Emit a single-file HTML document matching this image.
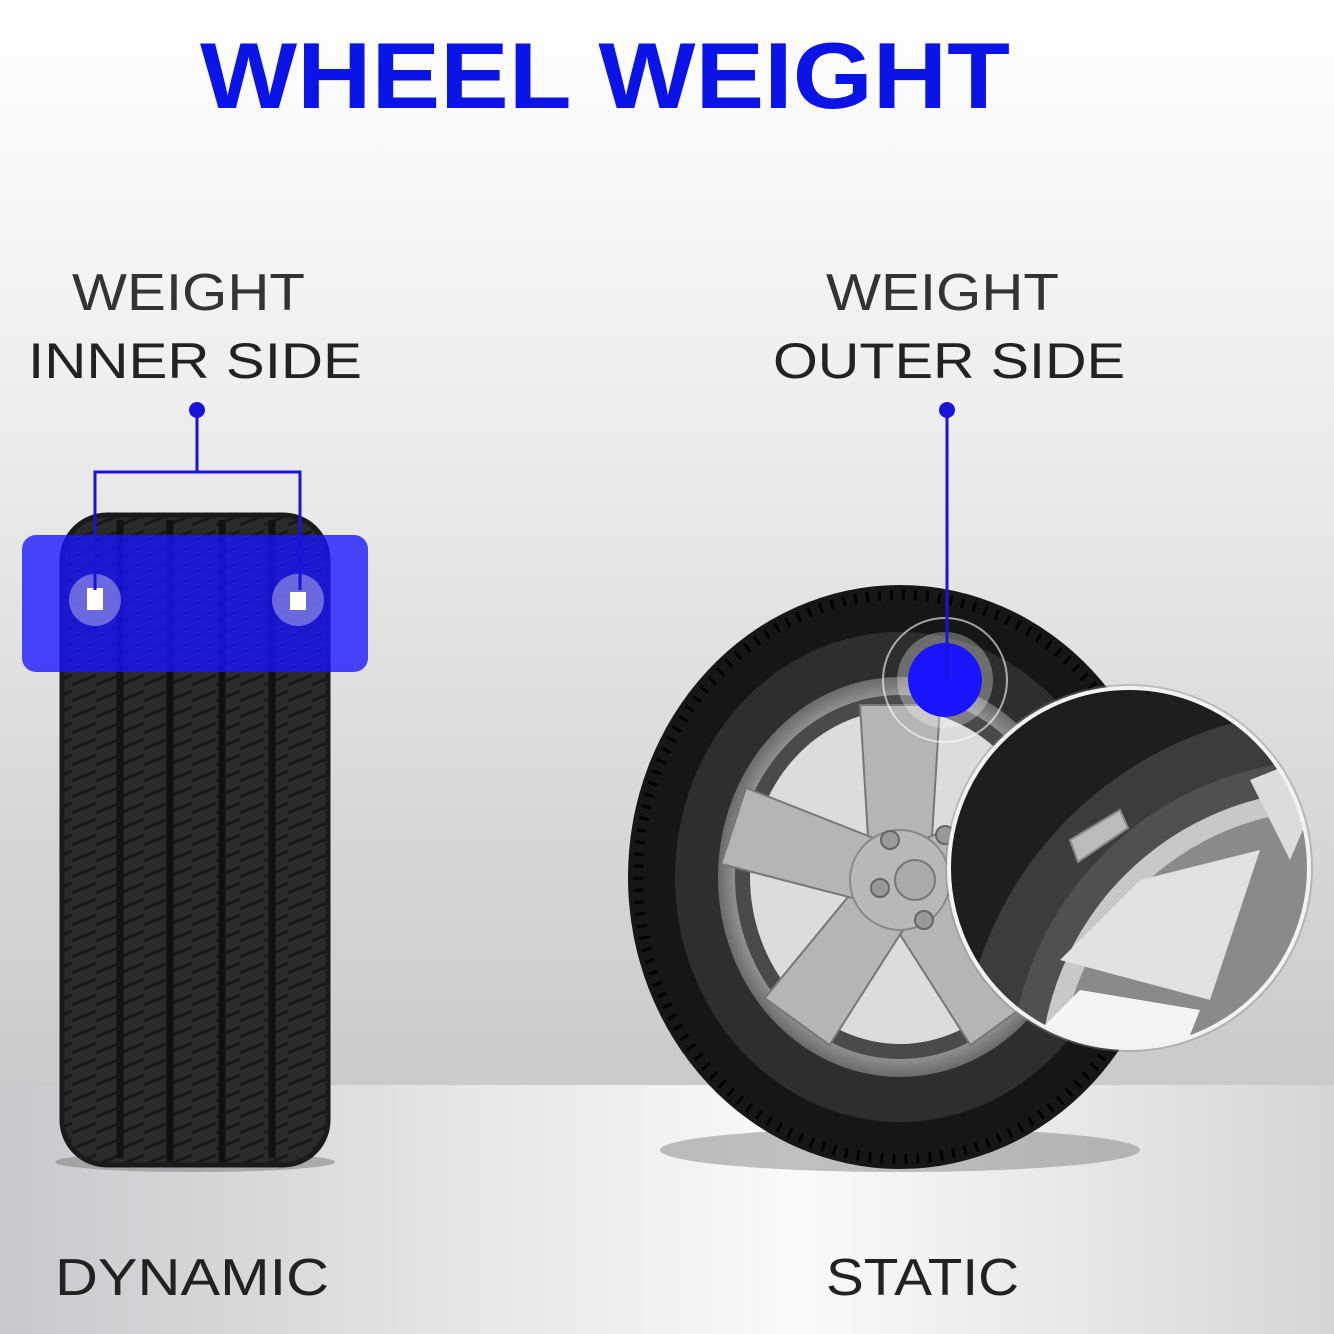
<!DOCTYPE html>
<html><head><meta charset="utf-8"><style>
html,body{margin:0;padding:0;width:1334px;height:1334px;overflow:hidden}
svg{display:block}
text{font-family:"Liberation Sans",sans-serif}
</style></head><body>
<svg width="1334" height="1334" viewBox="0 0 1334 1334" xmlns="http://www.w3.org/2000/svg">
<defs>
<linearGradient id="bg" x1="0" y1="0" x2="0" y2="1">
<stop offset="0" stop-color="#ffffff"/><stop offset="0.3" stop-color="#eeeeee"/><stop offset="0.8" stop-color="#cbcbcd"/><stop offset="1" stop-color="#c4c4c6"/></linearGradient>
<linearGradient id="fl" x1="0" y1="0" x2="1" y2="0">
<stop offset="0" stop-color="#c8c9cc"/><stop offset="0.45" stop-color="#eeeeee"/><stop offset="0.6" stop-color="#fafafa"/><stop offset="1" stop-color="#d6d6d6"/></linearGradient>
<radialGradient id="rim" cx="0.5" cy="0.5" r="0.5">
<stop offset="0" stop-color="#c8c8c8"/><stop offset="0.85" stop-color="#a8a8a8"/><stop offset="1" stop-color="#6a6a6a"/></radialGradient>
<pattern id="tread" width="24" height="16" patternUnits="userSpaceOnUse">
<rect width="24" height="16" fill="#2a2a2a"/><path d="M0 13 L24 3" stroke="#181818" stroke-width="3"/></pattern>
<clipPath id="mag"><circle cx="1129" cy="868" r="180"/></clipPath>
</defs>
<rect width="1334" height="1334" fill="url(#bg)"/>
<rect y="1085" width="1334" height="249" fill="url(#fl)"/>
<text x="200" y="108" font-size="94" font-weight="bold" fill="#0a14e6" textLength="810" lengthAdjust="spacingAndGlyphs">WHEEL WEIGHT</text>
<g fill="#222">
<text x="72" y="310" font-size="52" fill="#333" textLength="233" lengthAdjust="spacingAndGlyphs">WEIGHT</text>
<text x="28" y="378" font-size="50" textLength="334" lengthAdjust="spacingAndGlyphs">INNER SIDE</text>
<text x="826" y="310" font-size="52" fill="#333" textLength="233" lengthAdjust="spacingAndGlyphs">WEIGHT</text>
<text x="773" y="378" font-size="50" textLength="352" lengthAdjust="spacingAndGlyphs">OUTER SIDE</text>
<text x="55" y="1295" font-size="52" textLength="274" lengthAdjust="spacingAndGlyphs">DYNAMIC</text>
<text x="826" y="1295" font-size="52" textLength="193" lengthAdjust="spacingAndGlyphs">STATIC</text>
</g>
<!-- left tire -->
<ellipse cx="195" cy="1162" rx="140" ry="10" fill="#777" opacity="0.5"/>
<rect x="62" y="515" width="266" height="650" rx="45" fill="url(#tread)"/>
<rect x="62" y="515" width="266" height="650" rx="45" fill="none" stroke="#1a1a1a" stroke-width="5"/>
<g stroke="#111" stroke-width="7">
<line x1="120" y1="520" x2="120" y2="1158"/><line x1="170" y1="520" x2="170" y2="1162"/>
<line x1="222" y1="520" x2="222" y2="1162"/><line x1="272" y1="520" x2="272" y2="1158"/></g>
<rect x="22" y="535" width="346" height="137" rx="14" fill="#1a14ff" opacity="0.78"/>
<g fill="#fff" opacity="0.35"><circle cx="95" cy="600" r="26"/><circle cx="298" cy="600" r="26"/></g>
<g fill="#fff"><rect x="87" y="588" width="16" height="22"/><rect x="290" y="592" width="16" height="18"/></g>
<g stroke="#1a14d8" stroke-width="3" fill="none">
<path d="M197 410 V472 M95 590 V472 H300 V590"/></g>
<circle cx="197" cy="410" r="8" fill="#1a14d8"/>
<!-- right wheel -->
<ellipse cx="900" cy="1150" rx="240" ry="22" fill="#777" opacity="0.45"/>
<ellipse cx="900" cy="877" rx="272" ry="292" fill="#161616"/>
<ellipse cx="900" cy="877" rx="262" ry="282" fill="none" stroke="#000" stroke-width="10" stroke-dasharray="3 9"/>
<ellipse cx="900" cy="877" rx="225" ry="245" fill="#2e2e2e"/>
<ellipse cx="900" cy="877" rx="182" ry="200" fill="url(#rim)"/>
<ellipse cx="900" cy="877" rx="165" ry="182" fill="#4a4a4a"/>
<ellipse cx="900" cy="877" rx="150" ry="167" fill="#dcdcdc"/>
<g fill="#b5b5b5" stroke="#777" stroke-width="2">
<path d="M870 870 L860 705 L940 705 L930 870Z" transform="rotate(0 900 880)"/>
<path d="M870 870 L860 705 L940 705 L930 870Z" transform="rotate(72 900 880)"/>
<path d="M870 870 L860 705 L940 705 L930 870Z" transform="rotate(144 900 880)"/>
<path d="M870 870 L860 705 L940 705 L930 870Z" transform="rotate(216 900 880)"/>
<path d="M870 870 L860 705 L940 705 L930 870Z" transform="rotate(288 900 880)"/></g>
<circle cx="900" cy="880" r="50" fill="#b8b8b8" stroke="#888" stroke-width="2"/>
<circle cx="915" cy="880" r="20" fill="#aaa" stroke="#777" stroke-width="2"/>
<g fill="#999" stroke="#666" stroke-width="2"><circle cx="890" cy="840" r="9"/><circle cx="945" cy="835" r="9"/><circle cx="880" cy="888" r="9"/><circle cx="924" cy="920" r="9"/></g>
<!-- magnifier -->
<circle cx="1129" cy="868" r="184" fill="#888" opacity="0.4"/>
<g clip-path="url(#mag)">
<rect x="940" y="680" width="380" height="380" fill="#1e1e1e"/>
<circle cx="1330" cy="1080" r="370" fill="#3c3c3c"/>
<circle cx="1330" cy="1080" r="320" fill="#505050"/>
<circle cx="1330" cy="1080" r="290" fill="#c8c8c8"/>
<circle cx="1330" cy="1080" r="270" fill="#8a8a8a"/>
<path d="M1060 960 L1140 880 L1260 850 L1210 1000 Z" fill="#e2e2e2"/>
<path d="M1030 1040 L1080 990 L1200 1010 L1180 1060Z" fill="#f4f4f4"/>
<path d="M1250 780 L1300 760 L1320 790 L1290 860Z" fill="#dcdcdc"/>
<path d="M1070 840 L1120 810 L1128 828 L1078 862Z" fill="#bbb" stroke="#888" stroke-width="2"/>
</g>
<circle cx="1129" cy="868" r="180" fill="none" stroke="#f2f2f2" stroke-width="4"/>
<!-- weight indicator -->
<circle cx="945" cy="680" r="62" fill="none" stroke="#fff" stroke-width="2" opacity="0.6"/>
<circle cx="945" cy="680" r="48" fill="#fff" opacity="0.3"/>
<circle cx="945" cy="680" r="37" fill="#1a14ff"/>
<line x1="947" y1="410" x2="947" y2="680" stroke="#1a14d8" stroke-width="3"/>
<circle cx="947" cy="410" r="8" fill="#1a14d8"/>
</svg>
</body></html>
